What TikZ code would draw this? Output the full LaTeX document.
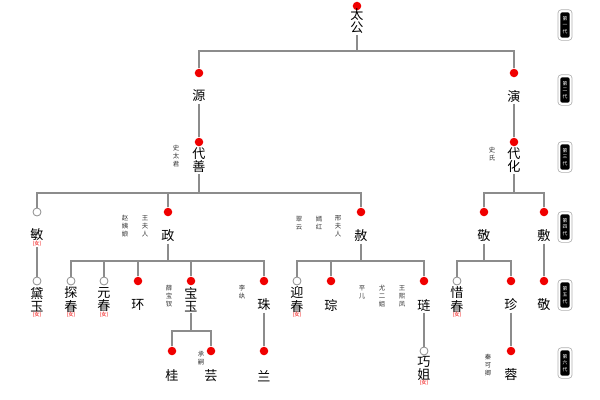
\documentclass[tikz,border=0pt]{standalone}
\usepackage{fontspec}
\setmainfont{Noto Sans CJK SC}
\usetikzlibrary{positioning}
\definecolor{lineGrey}{HTML}{8C8C8C}
\definecolor{dotRed}{HTML}{F00000}

\tikzset{
  link/.style={draw=lineGrey, line width=1pt},
  live/.style={circle, fill=dotRed, inner sep=0pt, minimum size=6.4pt},
  lost/.style={circle, draw=lineGrey, fill=white, line width=0.6pt, inner sep=0pt, minimum size=6pt},
  who/.style={font=\fontsize{9.8}{9.8}\selectfont, align=center, inner sep=1pt},
  mate/.style={font=\fontsize{4.8}{6}\selectfont, align=center, inner sep=0pt, text=black!80},
  girl/.style={font=\fontsize{4}{4}\selectfont, text=dotRed, inner sep=0pt},
  eraframe/.style={draw=lineGrey!70, rounded corners=2.5pt, minimum width=10.5pt, minimum height=23pt, line width=0.5pt},
  era/.style={fill=black, text=white, rounded corners=1.5pt, minimum width=7pt, minimum height=19pt,
              inner sep=0.5pt, font=\fontsize{3.6}{5}\selectfont, align=center}
}

\begin{document}
\begin{tikzpicture}[x=0.75pt, y=-0.75pt]
  \useasboundingbox (0,0) rectangle (600,400);
  % generation labels
  \foreach \gy/\gt [count=\i] in {25/一, 90/二, 157/三, 227/四, 295/五, 363/六} {
    \node[eraframe] (g\i f) at (565,\gy) {};
    \node[era] (g\i) at (g\i f) {第\\\gt\\代};
  }
  % bar levels
  \coordinate (b1) at (0,51);
  \coordinate (b2) at (0,193);
  \coordinate (b3) at (0,261);
  \coordinate (b4) at (0,331);
  % first and second generation
  \node[live] (taigongd) at (357,6) {};
  \node[who] (taigong) at (357,21) {太\\公};
  \node[live] (yuand) at (199,73) {};
  \node[who] (yuan) at (199,96) {源};
  \node[live] (yand) at (514,73) {};
  \node[who] (yan) at (514,96) {演};
  % third generation
  \node[live] (daishand) at (199,142) {};
  \node[who] (daishan) at (199,160) {代\\善};
  \node[mate] (shitaijun) at (176,156) {史\\太\\君};
  \node[live] (daihuad) at (514,142) {};
  \node[who] (daihua) at (514,160) {代\\化};
  \node[mate] (shishi) at (492,154) {史\\氏};
  % fourth generation
  \node[lost] (mind) at (37,212) {};
  \node[who] (min) at (37,235) {敏};
  \node[girl, below=-1.2pt of min] (minf) {(女)};
  \node[live] (zhengd) at (168,212) {};
  \node[who] (zheng) at (168,236) {政};
  \node[mate] (zhaoyiniang) at (125,226) {赵\\姨\\娘};
  \node[mate] (wangfuren) at (145,226) {王\\夫\\人};
  \node[live] (shed) at (361,212) {};
  \node[who] (she) at (361,236) {赦};
  \node[mate] (cuiyun) at (299,223) {翠\\云};
  \node[mate] (yanhong) at (319,223) {嫣\\红};
  \node[mate] (xingfuren) at (338,226) {邢\\夫\\人};
  \node[live] (jingd) at (484,212) {};
  \node[who] (jing) at (484,236) {敬};
  \node[live] (fud) at (544,212) {};
  \node[who] (fu) at (544,236) {敷};
  % fifth generation
  \node[lost] (daiyud) at (37,281) {};
  \node[who] (daiyu) at (37,299.5) {黛\\玉};
  \node[girl, below=-1.2pt of daiyu] (daiyuf) {(女)};
  \node[lost] (tanchund) at (71,281) {};
  \node[who] (tanchun) at (71,299.5) {探\\春};
  \node[girl, below=-1.2pt of tanchun] (tanchunf) {(女)};
  \node[lost] (yuanchund) at (104,281) {};
  \node[who] (yuanchun) at (104,299.5) {元\\春};
  \node[girl, below=-1.2pt of yuanchun] (yuanchunf) {(女)};
  \node[live] (huand) at (138,281) {};
  \node[who] (huan) at (138,305) {环};
  \node[live] (baoyud) at (191,281) {};
  \node[who] (baoyu) at (191,299.5) {宝\\玉};
  \node[mate] (xuebaochai) at (169,296) {薛\\宝\\钗};
  \node[live] (zhud) at (264,281) {};
  \node[who] (zhu) at (264,305) {珠};
  \node[mate] (liwan) at (242,292) {李\\纨};
  \node[lost] (yingchund) at (297,281) {};
  \node[who] (yingchun) at (297,299.5) {迎\\春};
  \node[girl, below=-1.2pt of yingchun] (yingchunf) {(女)};
  \node[live] (congd) at (331,281) {};
  \node[who] (cong) at (331,305) {琮};
  \node[mate] (pinger) at (362,292) {平\\儿};
  \node[mate] (youerjie) at (382,296) {尤\\二\\姐};
  \node[mate] (wangxifeng) at (402,296) {王\\熙\\凤};
  \node[live] (liand) at (424,281) {};
  \node[who] (lian) at (424,305) {琏};
  \node[lost] (xichund) at (457,281) {};
  \node[who] (xichun) at (457,299.5) {惜\\春};
  \node[girl, below=-1.2pt of xichun] (xichunf) {(女)};
  \node[live] (zhend) at (511,281) {};
  \node[who] (zhen) at (511,305) {珍};
  \node[live] (jingbd) at (544,281) {};
  \node[who] (jingb) at (544,305) {敬};
  % sixth generation
  \node[live] (guid) at (172,351) {};
  \node[who] (gui) at (172,376) {桂};
  \node[live] (yund) at (211,351) {};
  \node[who] (yun) at (211,376) {芸};
  \node[mate] (chengsi) at (201,358) {承\\嗣};
  \node[live] (land) at (264,351) {};
  \node[who] (lan) at (264,376) {兰};
  \node[lost] (qiaojied) at (424,351) {};
  \node[who] (qiaojie) at (424,368) {巧\\姐};
  \node[girl, below=-1.2pt of qiaojie] (qiaojief) {(女)};
  \node[live] (rongd) at (511,351) {};
  \node[who] (rong) at (511,375) {蓉};
  \node[mate] (qinkeqing) at (488,365) {秦\\可\\卿};
  % links
  \draw[link] (taigong) -- (taigong |- b1);
  \draw[link] (yuand) |- (yand |- b1) -- (yand);
  \draw[link] (yuan) -- (daishand);
  \draw[link] (yan) -- (daihuad);
  \draw[link] (daishan) -- (daishan |- b2);
  \draw[link] (mind) |- (shed |- b2) -- (shed);
  \draw[link] (zhengd) -- (zhengd |- b2);
  \draw[link] (daihua) -- (daihua |- b2);
  \draw[link] (jingd) |- (fud |- b2) -- (fud);
  \draw[link] (minf) -- (daiyud);
  \draw[link] (zheng) -- (zheng |- b3);
  \draw[link] (tanchund) |- (zhud |- b3) -- (zhud);
  \foreach \c in {yuanchund, huand, baoyud} \draw[link] (\c) -- (\c |- b3);
  \draw[link] (she) -- (she |- b3);
  \draw[link] (yingchund) |- (liand |- b3) -- (liand);
  \draw[link] (congd) -- (congd |- b3);
  \draw[link] (jing) -- (jing |- b3);
  \draw[link] (xichund) |- (zhend |- b3) -- (zhend);
  \draw[link] (fu) -- (jingbd);
  \draw[link] (baoyu) -- (baoyu |- b4);
  \draw[link] (guid) |- (yund |- b4) -- (yund);
  \draw[link] (zhu) -- (land);
  \draw[link] (lian) -- (qiaojied);
  \draw[link] (zhen) -- (rongd);
\end{tikzpicture}
\end{document}
